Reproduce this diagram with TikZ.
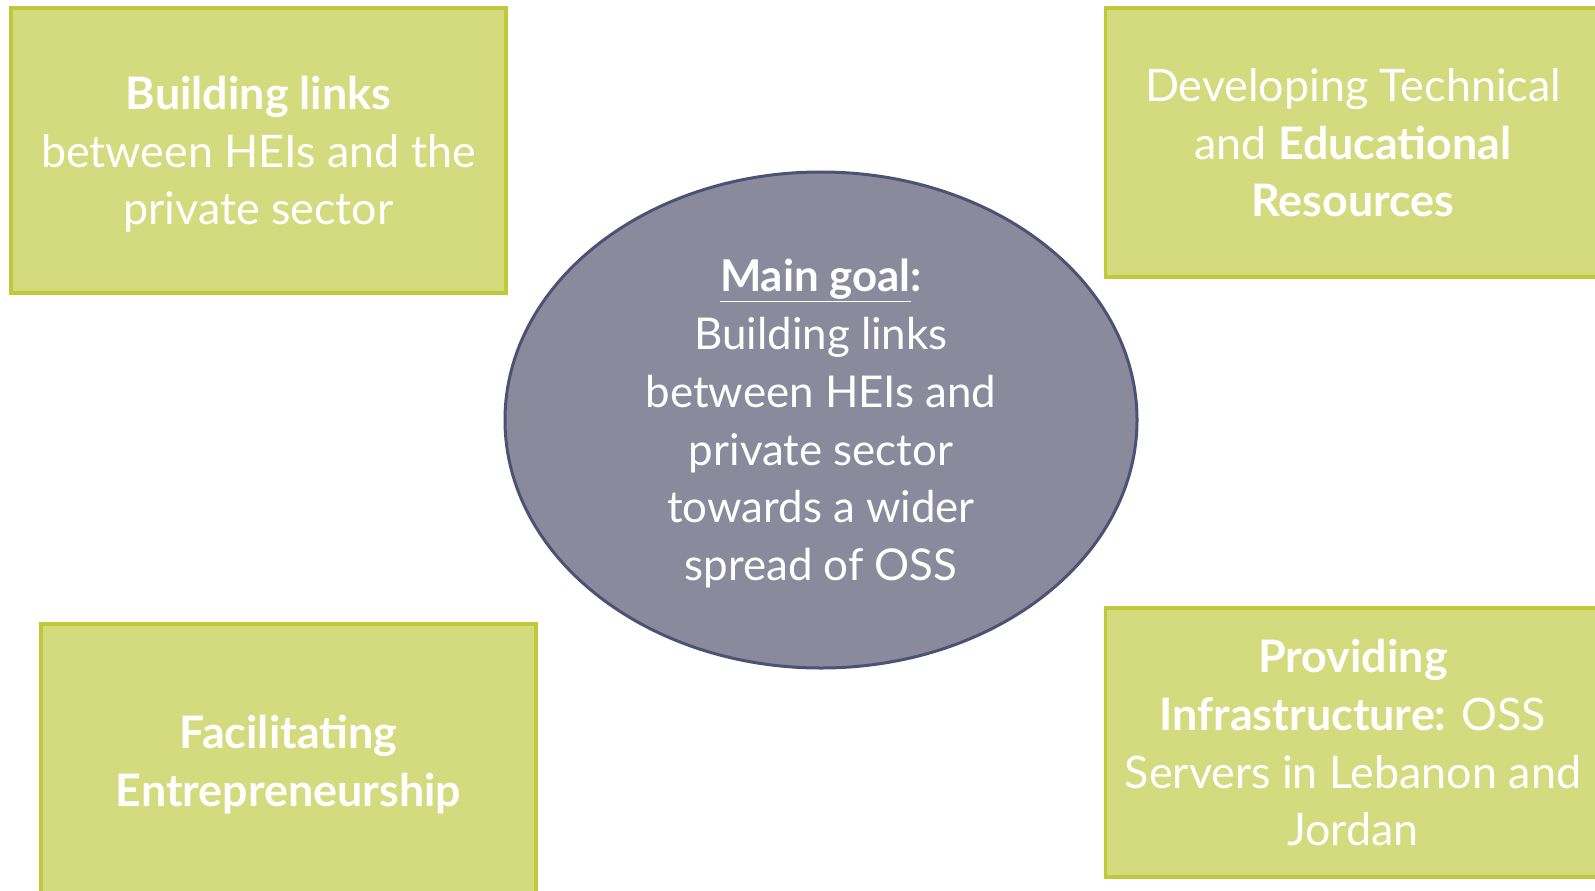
\documentclass[tikz,border=0pt]{standalone}
\usepackage{fontspec}
\setmainfont{Lato}
\usetikzlibrary{shapes.geometric}
\definecolor{boxfill}{HTML}{D4DB7E}
\definecolor{boxline}{HTML}{BFC93A}
\definecolor{goalfill}{HTML}{8B8A9D}
\definecolor{goalline}{HTML}{4B5274}
\begin{document}
\begin{tikzpicture}[x = 1bp, y = -1bp,
	areabox/.style = {draw = boxline, fill = boxfill, line width = 3.3bp, text = white, align = center, inner sep = 0pt, text depth = 0pt, minimum width = 495bp, font = \fontsize{45}{58}\selectfont},
	goal/.style = {ellipse, draw = goalline, fill = goalfill, line width = 3bp, text = white, align = center, inner sep = 0pt, text depth = 0pt, minimum width = 632bp, minimum height = 496bp, font = \fontsize{44}{58}\selectfont}]
					\useasboundingbox (0, 0) rectangle (1595, 890);
					\node [areabox, minimum height = 285bp] (links) at (258.5, 150.5) {\textbf{Building links}\\between HEIs and the\\private sector};
					\node [areabox, minimum height = 269bp] (resources) at (1353, 142.5) {Developing Technical\\and \textbf{Educational}\\\textbf{Resources}};
					\node [areabox, minimum height = 273bp] (entrepreneurship) at (288.5, 760.5) {\textbf{Facilitating}\\\textbf{Entrepreneurship}};
					\node [areabox, minimum height = 269bp] (infrastructure) at (1353, 742.5) {\textbf{Providing}\\\textbf{Infrastructure:} OSS\\Servers in Lebanon and\\Jordan};
					\node [goal] (maingoal) at (821, 420) {\underline{\textbf{Main goal}}\textbf{:}\\Building links\\between HEIs and\\private sector\\towards a wider\\spread of OSS};
				\end{tikzpicture}
\end{document}
